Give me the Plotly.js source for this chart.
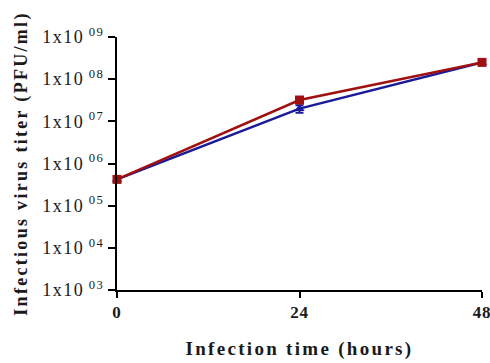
<!DOCTYPE html>
<html><head><meta charset="utf-8">
<script src="https://cdn.plot.ly/plotly-3.0.1.min.js"></script>
<style>
body{margin:0;background:#fff}
.xtitle,.ytitle{letter-spacing:2.3px}
.ytick text{letter-spacing:1.5px}
.xtick text{letter-spacing:0.8px}
</style>
</head><body>
<div id="chart" style="width:490px;height:363px"></div>
<script>
const hours = [0, 24, 48];
const blueTiter = [4.2e5, 2.0e7, 2.5e8];
const blueErr = [0, 4e6, 0];
const redTiter = [4.2e5, 3.2e7, 2.5e8];
const yTickVals = [1e3, 1e4, 1e5, 1e6, 1e7, 1e8, 1e9];
const yTickText = ['1x10<sup> 03</sup>', '1x10<sup> 04</sup>', '1x10<sup> 05</sup>', '1x10<sup> 06</sup>', '1x10<sup> 07</sup>', '1x10<sup> 08</sup>', '1x10<sup> 09</sup>'];
const xTickVals = [0, 24, 48];

const fam = 'Liberation Serif, Times New Roman, serif';
const ink = '#1a1a1a';

const traces = [
  {x: hours, y: blueTiter, type: 'scatter', mode: 'lines+markers',
   line: {color: '#1a1a9a', width: 2.5},
   marker: {symbol: 'triangle-up', size: 9, color: '#1a1a9a'},
   error_y: {type: 'data', array: blueErr, visible: true, color: '#1a1a9a', thickness: 2, width: 4},
   cliponaxis: false, showlegend: false},
  {x: hours, y: redTiter, type: 'scatter', mode: 'lines+markers',
   line: {color: '#a01010', width: 2.5},
   marker: {symbol: 'square', size: 9, color: '#a01010'},
   cliponaxis: false, showlegend: false}
];

const layout = {
  width: 490, height: 363,
  margin: {l: 117, r: 8, t: 37, b: 73},
  paper_bgcolor: '#fff', plot_bgcolor: '#fff',
  font: {family: fam, color: ink},
  xaxis: {
    range: [0, 48], tickvals: xTickVals, ticktext: xTickVals.map(String),
    ticklabeloverflow: 'allow',
    showgrid: false, zeroline: false, showline: true, linecolor: '#000', linewidth: 2,
    ticks: 'outside', ticklen: 6, tickwidth: 2, tickcolor: '#000',
    tickfont: {family: fam, size: 17, color: ink, weight: 'bold'},
    title: {text: 'Infection time (hours)', font: {family: fam, size: 19, color: ink, weight: 'bold'}, standoff: 20}
  },
  yaxis: {
    type: 'log', range: [3, 9], tickvals: yTickVals, ticktext: yTickText,
    showgrid: false, zeroline: false, showline: true, linecolor: '#000', linewidth: 2,
    ticks: 'outside', ticklen: 7, tickwidth: 2, tickcolor: '#000',
    tickfont: {family: fam, size: 18, color: ink},
    title: {text: 'Infectious virus titer (PFU/ml)', font: {family: fam, size: 18, color: ink, weight: 'bold'}, standoff: 10}
  }
};

Plotly.newPlot('chart', traces, layout, {displayModeBar: false, staticPlot: true});
</script>
</body></html>
